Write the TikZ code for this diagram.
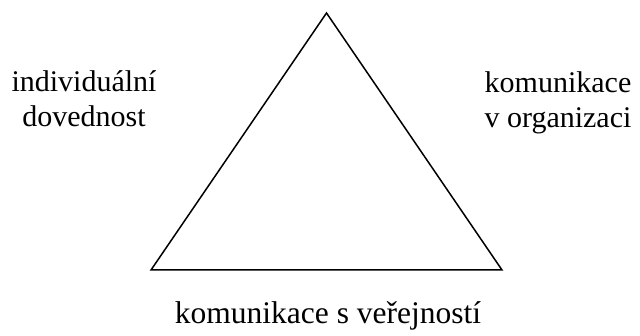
\documentclass[tikz,border=0pt]{standalone}
\usepackage{fontspec}
\setmainfont{Liberation Serif}
\begin{document}
\begin{tikzpicture}[x=1pt,y=-1pt,
  lbl/.style={font=\fontsize{30}{34}\selectfont, inner sep=0pt, anchor=base},
  blbl/.style={font=\fontsize{31.5}{36}\selectfont, inner sep=0pt, anchor=base},
  edge/.style={line width=1.5pt, line join=miter}]
\useasboundingbox (0,0) rectangle (640,336);
\coordinate (top) at (326.5,13);
\coordinate (bl) at (151,270);
\coordinate (br) at (502,270);
\draw[edge] (top) -- (bl) -- (br) -- cycle;
\node[lbl] (l1) at (84,92) {individuální};
\node[lbl] (l2) at (84,126.5) {dovednost};
\node[lbl] (r1) at (558,93) {komunikace};
\node[lbl] (r2) at (558,127.5) {v organizaci};
\node[blbl] (b) at (328,324) {komunikace s veřejností};
\end{tikzpicture}
\end{document}
